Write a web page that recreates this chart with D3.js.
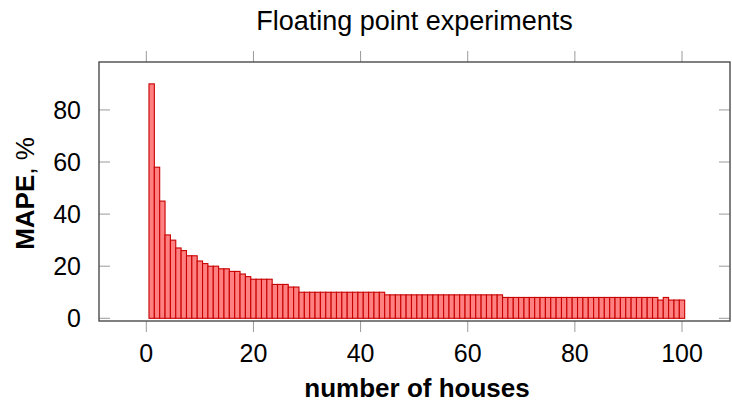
<!DOCTYPE html>
<html>
<head>
<meta charset="utf-8">
<script src="https://cdn.jsdelivr.net/npm/d3@7"></script>
<style>
  body { margin: 0; background: #fff; }
  svg { display: block; }
</style>
</head>
<body>
<div id="chart"></div>
<script>
// number of houses, 1 .. 100
const houses = [
  1, 2, 3, 4, 5, 6, 7, 8, 9, 10,
  11, 12, 13, 14, 15, 16, 17, 18, 19, 20,
  21, 22, 23, 24, 25, 26, 27, 28, 29, 30,
  31, 32, 33, 34, 35, 36, 37, 38, 39, 40,
  41, 42, 43, 44, 45, 46, 47, 48, 49, 50,
  51, 52, 53, 54, 55, 56, 57, 58, 59, 60,
  61, 62, 63, 64, 65, 66, 67, 68, 69, 70,
  71, 72, 73, 74, 75, 76, 77, 78, 79, 80,
  81, 82, 83, 84, 85, 86, 87, 88, 89, 90,
  91, 92, 93, 94, 95, 96, 97, 98, 99, 100
];

// MAPE in %
const mape = [
  90, 58, 45, 32, 30, 27, 26, 24, 24, 22,
  21, 20, 20, 19, 19, 18, 18, 17, 16, 15,
  15, 15, 15, 13, 13, 13, 12, 12, 10, 10,
  10, 10, 10, 10, 10, 10, 10, 10, 10, 10,
  10, 10, 10, 10, 9, 9, 9, 9, 9, 9,
  9, 9, 9, 9, 9, 9, 9, 9, 9, 9,
  9, 9, 9, 9, 9, 9, 8, 8, 8, 8,
  8, 8, 8, 8, 8, 8, 8, 8, 8, 8,
  8, 8, 8, 8, 8, 8, 8, 8, 8, 8,
  8, 8, 8, 8, 8, 7, 8, 7, 7, 7
];

const x_ticks = [0, 20, 40, 60, 80, 100];
const y_ticks = [0, 20, 40, 60, 80];

const chart_title = "Floating point experiments";
const x_title = "number of houses";

const width = 732;
const height = 405;

// axis box
let box = { left: 99, right: 730, top: 62, bottom: 321 };

const font = "'Liberation Sans', Arial, Helvetica, sans-serif";

let svg = d3.select("#chart").append("svg")
    .attr("width", width)
    .attr("height", height);

let x = d3.scaleLinear()
    .domain([-8.83, 108.96])
    .range([box.left, box.right]);

let y = d3.scaleLinear()
    .domain([-1.04, 98.4])
    .range([box.bottom, box.top]);

let rows = houses.map((h, i) => ({ n: h, v: mape[i] }));

///////////// bars
svg.append("g")
    .selectAll("rect")
    .data(rows)
    .enter()
    .append("rect")
    .attr("x", d => x(d.n - 0.5))
    .attr("y", d => y(d.v))
    .attr("width", d => x(d.n + 0.5) - x(d.n - 0.5))
    .attr("height", d => y(0) - y(d.v))
    .style("fill", "#ff8080")
    .style("stroke", "#c80000")
    .style("stroke-width", 1.1);

///////////// ticks
let tick_col = "#9a9a9a";
let tick_len = 11;

// x ticks point outwards, top and bottom
let xt = svg.append("g");
x_ticks.forEach(t => {
    xt.append("line")
        .attr("x1", x(t)).attr("x2", x(t))
        .attr("y1", box.bottom).attr("y2", box.bottom + tick_len)
        .style("stroke", tick_col).style("stroke-width", 1);
    xt.append("line")
        .attr("x1", x(t)).attr("x2", x(t))
        .attr("y1", box.top).attr("y2", box.top - tick_len)
        .style("stroke", tick_col).style("stroke-width", 1);
});

// y ticks point inwards, left and right
let yt = svg.append("g");
y_ticks.forEach(t => {
    yt.append("line")
        .attr("x1", box.left).attr("x2", box.left + tick_len)
        .attr("y1", y(t)).attr("y2", y(t))
        .style("stroke", tick_col).style("stroke-width", 1);
    yt.append("line")
        .attr("x1", box.right).attr("x2", box.right - tick_len)
        .attr("y1", y(t)).attr("y2", y(t))
        .style("stroke", tick_col).style("stroke-width", 1);
});

///////////// axis box
svg.append("rect")
    .attr("x", box.left)
    .attr("y", box.top)
    .attr("width", box.right - box.left)
    .attr("height", box.bottom - box.top)
    .style("fill", "none")
    .style("stroke", "#4a4a4a")
    .style("stroke-width", 1.4);

///////////// tick labels
svg.append("g")
    .selectAll("text")
    .data(x_ticks)
    .enter()
    .append("text")
    .attr("x", d => x(d))
    .attr("y", 362)
    .attr("text-anchor", "middle")
    .style("font-family", font)
    .style("font-size", "25px")
    .style("fill", "#000")
    .text(d => d);

svg.append("g")
    .selectAll("text")
    .data(y_ticks)
    .enter()
    .append("text")
    .attr("x", 81)
    .attr("y", d => y(d) + 9)
    .attr("text-anchor", "end")
    .style("font-family", font)
    .style("font-size", "25px")
    .style("fill", "#000")
    .text(d => d);

///////////// titles
svg.append("text")
    .attr("x", (box.left + box.right) / 2)
    .attr("y", 30)
    .attr("text-anchor", "middle")
    .style("font-family", font)
    .style("font-size", "27px")
    .style("fill", "#000")
    .text(chart_title);

svg.append("text")
    .attr("x", 417)
    .attr("y", 397)
    .attr("text-anchor", "middle")
    .style("font-family", font)
    .style("font-size", "26px")
    .style("font-weight", "bold")
    .style("fill", "#000")
    .text(x_title);

let y_title = svg.append("text")
    .attr("transform", `translate(34, ${(box.top + box.bottom) / 2 + 2}) rotate(-90)`)
    .attr("text-anchor", "middle")
    .style("font-family", font)
    .style("font-size", "26px")
    .style("fill", "#000");

y_title.append("tspan")
    .style("font-weight", "bold")
    .text("MAPE");
y_title.append("tspan")
    .text(", %");
</script>
</body>
</html>
